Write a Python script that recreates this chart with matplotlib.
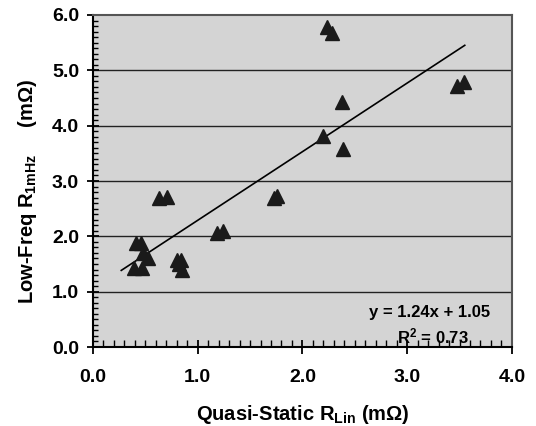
import numpy as np
import matplotlib
matplotlib.use("Agg")
from matplotlib import pyplot as plt
from matplotlib.ticker import MultipleLocator, FormatStrFormatter

plt.rcParams["font.family"] = ["Liberation Sans", "DejaVu Sans"]
plt.rcParams["font.weight"] = "bold"
plt.rcParams["axes.labelweight"] = "bold"
plt.rcParams["mathtext.fontset"] = "custom"
plt.rcParams["mathtext.rm"] = "Liberation Sans:bold"
plt.rcParams["mathtext.it"] = "Liberation Sans:bold"
plt.rcParams["mathtext.bf"] = "Liberation Sans:bold"

# Quasi-static R_Lin (mOhm) vs low-freq R_1mHz (mOhm)
r_lin = [2.23, 2.28, 3.48, 3.54, 2.38, 2.20, 2.39, 1.73, 1.76,
         0.63, 0.71, 1.18, 1.24, 0.41, 0.46, 0.48, 0.53,
         0.39, 0.47, 0.80, 0.84, 0.82, 0.85]
r_1mhz = [5.79, 5.68, 4.71, 4.79, 4.42, 3.81, 3.58, 2.69, 2.73,
          2.69, 2.72, 2.06, 2.10, 1.88, 1.88, 1.69, 1.60,
          1.43, 1.43, 1.58, 1.57, 1.50, 1.39]

# linear trend from the chart
slope = 1.24
intercept = 1.05
r_squared = 0.73
trend_x = [0.27, 3.55]

fig = plt.figure(figsize=(5.36, 4.26), dpi=100)
ax = fig.add_axes([0.1735, 0.1854, 0.7815, 0.7794])
ax.set_facecolor("#d4d4d4")

ax.set_xlim(0, 4)
ax.set_ylim(0, 6)

for y in range(1, 6):
    ax.axhline(y, color="#222222", lw=1.0, zorder=1)

tx = np.array(trend_x)
ax.plot(tx, slope * tx + intercept, color="black", lw=1.2, zorder=2)
ax.plot(r_lin, r_1mhz, linestyle="none", marker="^", ms=9.5,
        color="#1a1a1a", zorder=3)

ax.xaxis.set_major_locator(MultipleLocator(1.0))
ax.xaxis.set_minor_locator(MultipleLocator(0.1))
ax.yaxis.set_major_locator(MultipleLocator(1.0))
ax.yaxis.set_minor_locator(MultipleLocator(0.1))
ax.xaxis.set_major_formatter(FormatStrFormatter("%.1f"))
ax.yaxis.set_major_formatter(FormatStrFormatter("%.1f"))

ax.tick_params(axis="x", which="major", direction="inout", length=10,
               width=1.3, labelsize=14, pad=11)
ax.tick_params(axis="x", which="minor", direction="in", length=5, width=1.0)
ax.tick_params(axis="y", which="major", direction="inout", length=8,
               width=1.3, labelsize=14, pad=6)
ax.tick_params(axis="y", which="minor", direction="in", length=3.5, width=1.0)

for side in ("left", "bottom"):
    ax.spines[side].set_linewidth(1.5)
    ax.spines[side].set_color("black")
for side in ("top", "right"):
    ax.spines[side].set_linewidth(1.5)
    ax.spines[side].set_color("#555555")

ax.set_xlabel("Quasi-Static R$_{\\mathrm{Lin}}$ (mΩ)", fontsize=14.5,
              labelpad=12)
ax.set_ylabel("Low-Freq R$_{\\mathrm{1mHz}}$     (mΩ)", fontsize=14.5)
ax.yaxis.set_label_coords(-0.13, 0.47)

ax.text(3.79, 0.62, f"y = {slope:.2f}x + {intercept:.2f}", fontsize=12,
        ha="right", va="center", zorder=4)
ax.text(3.25, 0.19, f"R$^{{2}}$ = {r_squared:.2f}", fontsize=12,
        ha="center", va="center", zorder=4)

fig.savefig("out.png", dpi=100)
